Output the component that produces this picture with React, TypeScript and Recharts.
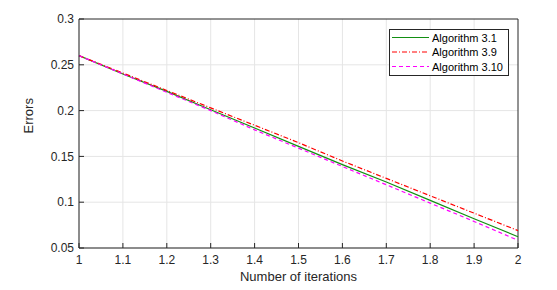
import { LineChart, Line, XAxis, YAxis, CartesianGrid } from 'recharts';

const iterations = [1, 1.1, 1.2, 1.3, 1.4, 1.5, 1.6, 1.7, 1.8, 1.9, 2];
const alg31 = [0.26, 0.24, 0.221, 0.201, 0.181, 0.161, 0.141, 0.122, 0.102, 0.082, 0.0623];
const alg39 = [0.26, 0.241, 0.222, 0.203, 0.184, 0.165, 0.145, 0.126, 0.107, 0.088, 0.069];
const alg310 = [0.26, 0.24, 0.22, 0.2, 0.179, 0.159, 0.139, 0.119, 0.099, 0.079, 0.0584];
const xTicks = [1, 1.1, 1.2, 1.3, 1.4, 1.5, 1.6, 1.7, 1.8, 1.9, 2];
const yTicks = [0.05, 0.1, 0.15, 0.2, 0.25, 0.3];

const data = iterations.map((x, i) => ({ x, a31: alg31[i], a39: alg39[i], a310: alg310[i] }));

const axisColor = '#262626';
const font = 'Liberation Sans, Arial, sans-serif';
const green = '#128f12';

const legendItems = [
  { name: 'Algorithm 3.1', color: green, dash: undefined },
  { name: 'Algorithm 3.9', color: '#ff0000', dash: '5 2 1 2' },
  { name: 'Algorithm 3.10', color: '#ff00ff', dash: '4 3' },
];

function LegendBox() {
  return (
    <svg width={120} height={48} style={{ display: 'block' }}>
      <rect x={0.5} y={0.5} width={119} height={46} fill="#fff" stroke="#262626" strokeWidth={1} />
      {legendItems.map((it, i) => (
        <g key={it.name}>
          <line x1={3} x2={40} y1={8.5 + i * 14.5} y2={8.5 + i * 14.5} stroke={it.color} strokeWidth={1.2} strokeDasharray={it.dash} />
          <text x={43} y={12.5 + i * 14.5} fontSize={11} fontFamily={font} fill="#000">{it.name}</text>
        </g>
      ))}
    </svg>
  );
}

export default function App() {
  return (
    <div style={{ position: 'absolute', left: 0, top: 0, width: 557, height: 290, background: '#fff' }}>
      <LineChart width={557} height={290} data={data} margin={{ top: 19, right: 39, bottom: 12, left: 20 }}>
        <CartesianGrid stroke="#e5e5e5" horizontalValues={yTicks.slice(0, -1)} verticalValues={xTicks.slice(0, -1)} />
        {/* dark frame on top and right, like the plot box */}
        <CartesianGrid stroke={axisColor} horizontalValues={[0.3]} verticalValues={[2]} />
        <XAxis
          dataKey="x"
          type="number"
          domain={[1, 2]}
          ticks={xTicks}
          height={30}
          tickSize={-5}
          tickMargin={12}
          stroke={axisColor}
          tick={{ fill: axisColor, fontSize: 12, fontFamily: font }}
          label={{ value: 'Number of iterations', position: 'insideBottom', offset: -3, fill: axisColor, fontSize: 13, fontFamily: font }}
        />
        <YAxis
          type="number"
          domain={[0.05, 0.3]}
          ticks={yTicks}
          width={59}
          tickSize={-5}
          tickMargin={10}
          stroke={axisColor}
          tick={{ fill: axisColor, fontSize: 12, fontFamily: font }}
          label={{ value: 'Errors', angle: -90, position: 'insideLeft', offset: 0, dx: 8, fill: axisColor, fontSize: 13, fontFamily: font }}
        />
        <Line dataKey="a31" stroke={green} strokeWidth={1.2} dot={false} isAnimationActive={false} />
        <Line dataKey="a39" stroke="#ff0000" strokeWidth={1.2} strokeDasharray="5 2 1 2" dot={false} isAnimationActive={false} />
        <Line dataKey="a310" stroke="#ff00ff" strokeWidth={1.2} strokeDasharray="4 3" dot={false} isAnimationActive={false} />
      </LineChart>
      <div style={{ position: 'absolute', left: 389, top: 29 }}>
        <LegendBox />
      </div>
    </div>
  );
}
